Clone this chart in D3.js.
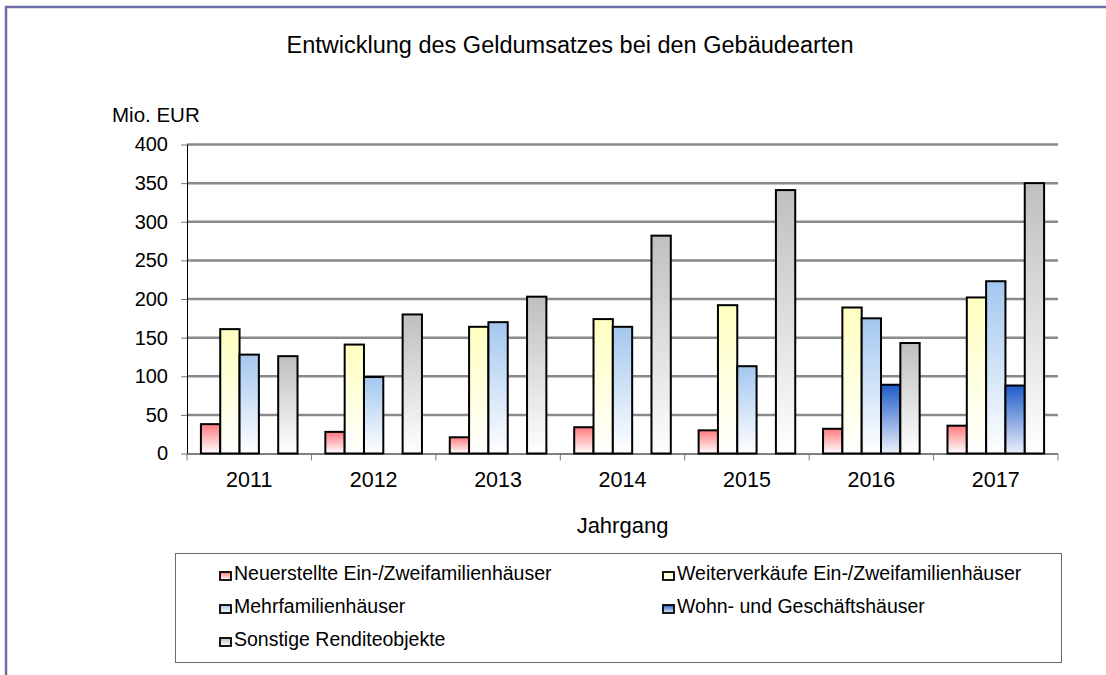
<!DOCTYPE html>
<html>
<head>
<meta charset="utf-8">
<script src="https://cdn.jsdelivr.net/npm/d3@7"></script>
<style>
  body { margin: 0; background: #fff; }
  svg { display: block; font-family: "Liberation Sans", Arial, sans-serif; }
</style>
</head>
<body>
<script>
const years = ['2011', '2012', '2013', '2014', '2015', '2016', '2017'];
const seriesNames = [
  'Neuerstellte Ein-/Zweifamilienhäuser',
  'Weiterverkäufe Ein-/Zweifamilienhäuser',
  'Mehrfamilienhäuser',
  'Wohn- und Geschäftshäuser',
  'Sonstige Renditeobjekte'
];
const neuerstellt = [38, 28, 21, 34, 30, 32, 36];
const weiterverkauf = [161, 141, 164, 174, 192, 189, 202];
const mehrfamilien = [128, 99, 170, 164, 113, 175, 223];
const wohnGeschaeft = [null, null, null, null, null, 89, 88];
const sonstige = [126, 180, 203, 282, 341, 143, 350];
const yTicks = [0, 50, 100, 150, 200, 250, 300, 350, 400];

const seriesValues = [neuerstellt, weiterverkauf, mehrfamilien, wohnGeschaeft, sonstige];
const topColors = ['#ff7a7e', '#ffffc0', '#a3c7ef', '#1d5cc9', '#bfbfbf'];
const bottomColors = ['#ffffff', '#ffffff', '#ffffff', '#eef0fb', '#ffffff'];

const W = 1106, H = 675;
const svg = d3.select('body').append('svg')
  .attr('width', W)
  .attr('height', H);

// gradients
const defs = svg.append('defs');
seriesNames.forEach((s, i) => {
  const g = defs.append('linearGradient')
    .attr('id', 'grad' + i)
    .attr('x1', 0).attr('y1', 0).attr('x2', 0).attr('y2', 1);
  g.append('stop').attr('offset', '0%').attr('stop-color', topColors[i]);
  g.append('stop').attr('offset', '100%').attr('stop-color', bottomColors[i]);
});

// outer frame
svg.append('path')
  .attr('d', `M6,${H + 5} V7 H${W + 5}`)
  .attr('fill', 'none')
  .attr('stroke', '#6e6ea6')
  .attr('stroke-width', 2.5);

const plotL = 187, plotR = 1058, plotT = 144.5, plotB = 453.5;

const x0 = d3.scaleBand().domain(years).range([plotL, plotR]);
const x1 = d3.scaleBand().domain(d3.range(seriesNames.length))
  .range([0, x0.bandwidth()]).paddingOuter(0.72);
const y = d3.scaleLinear().domain([0, 400]).range([plotB, plotT]);

// gridlines
svg.append('g')
  .selectAll('line')
  .data(yTicks.filter(d => d > 0))
  .join('line')
  .attr('x1', plotL).attr('x2', plotR)
  .attr('y1', d => y(d)).attr('y2', d => y(d))
  .attr('stroke', '#8a8a8a')
  .attr('stroke-width', 2.5);

// bars
const bars = [];
years.forEach((yr, i) => {
  seriesValues.forEach((vals, s) => {
    if (vals[i] != null) bars.push({ year: yr, s, v: vals[i] });
  });
});
svg.append('g')
  .selectAll('rect')
  .data(bars)
  .join('rect')
  .attr('x', d => x0(d.year) + x1(d.s))
  .attr('y', d => y(d.v))
  .attr('width', x1.bandwidth())
  .attr('height', d => y(0) - y(d.v))
  .attr('fill', d => `url(#grad${d.s})`)
  .attr('stroke', '#000')
  .attr('stroke-width', 2);

// y axis
const yAxis = svg.append('g')
  .attr('transform', `translate(${plotL},0)`)
  .call(d3.axisLeft(y).tickValues(yTicks).tickSize(6).tickPadding(13));
yAxis.select('.domain').attr('stroke', '#000').attr('d', `M0.5,${plotT}V${plotB}`);
yAxis.selectAll('.tick line').attr('stroke', '#777');
yAxis.selectAll('.tick text')
  .attr('font-size', 20)
  .attr('font-family', '"Liberation Sans", Arial, sans-serif')
  .attr('fill', '#000');

// x axis
const xAxis = svg.append('g')
  .attr('transform', `translate(0,${plotB})`)
  .call(d3.axisBottom(x0).tickSize(0));
xAxis.select('.domain').attr('stroke', '#000').attr('d', `M${plotL},0.5H${plotR}`);
xAxis.selectAll('.tick text')
  .attr('y', 33.5)
  .attr('dy', 0)
  .attr('font-size', 21.5)
  .attr('font-family', '"Liberation Sans", Arial, sans-serif')
  .attr('fill', '#000');
// category separators
svg.append('g')
  .selectAll('line')
  .data(years.concat(['end']))
  .join('line')
  .attr('x1', (d, i) => i < years.length ? x0(d) : plotR)
  .attr('x2', (d, i) => i < years.length ? x0(d) : plotR)
  .attr('y1', plotB).attr('y2', plotB + 7)
  .attr('stroke', '#777');

// titles
svg.append('text')
  .attr('x', 570).attr('y', 53)
  .attr('text-anchor', 'middle')
  .attr('font-size', 23.5)
  .text('Entwicklung des Geldumsatzes bei den Gebäudearten');
svg.append('text')
  .attr('x', 112).attr('y', 122)
  .attr('font-size', 20.5)
  .text('Mio. EUR');
svg.append('text')
  .attr('x', (plotL + plotR) / 2).attr('y', 533)
  .attr('text-anchor', 'middle')
  .attr('font-size', 22)
  .text('Jahrgang');

// legend
svg.append('rect')
  .attr('x', 175.5).attr('y', 553.5)
  .attr('width', 886).attr('height', 109)
  .attr('fill', '#fff')
  .attr('stroke', '#6a6a6a')
  .attr('stroke-width', 1);
const legendPos = [[220, 580], [663, 580], [220, 613], [663, 613], [220, 646]];
const leg = svg.append('g')
  .selectAll('g')
  .data(seriesNames)
  .join('g')
  .attr('transform', (d, i) => `translate(${legendPos[i][0]},${legendPos[i][1]})`);
leg.append('rect')
  .attr('x', 0).attr('y', -8)
  .attr('width', 11).attr('height', 8)
  .attr('fill', (d, i) => `url(#grad${i})`)
  .attr('stroke', '#000')
  .attr('stroke-width', 1.8);
leg.append('text')
  .attr('x', 14).attr('y', 0)
  .attr('font-size', 19.5)
  .text(d => d);
</script>
</body>
</html>
